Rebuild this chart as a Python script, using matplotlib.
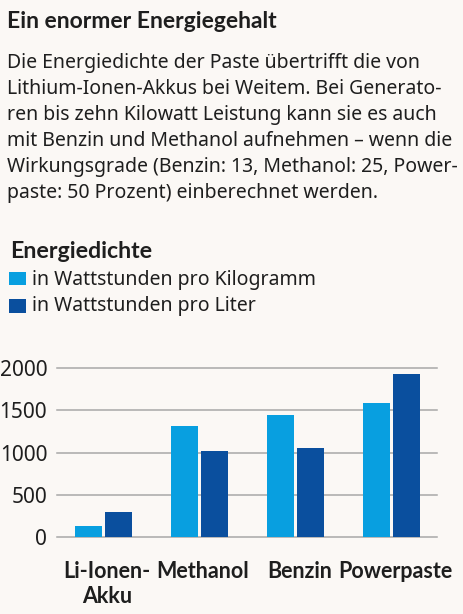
import matplotlib
matplotlib.use("Agg")
import matplotlib.pyplot as plt
from matplotlib.patches import Rectangle
import numpy as np

categories = ["Li-Ionen-\nAkku", "Methanol", "Benzin", "Powerpaste"]
wh_per_kg = [130, 1320, 1445, 1590]
wh_per_l = [295, 1025, 1060, 1930]
yticks = [0, 500, 1000, 1500, 2000]
series_labels = ["in Wattstunden pro Kilogramm", "in Wattstunden pro Liter"]

title = "Ein enormer Energiegehalt"
body_lines = ["Die Energiedichte der Paste übertrifft die von",
              "Lithium-Ionen-Akkus bei Weitem. Bei Generato-",
              "ren bis zehn Kilowatt Leistung kann sie es auch",
              "mit Benzin und Methanol aufnehmen – wenn die",
              "Wirkungsgrade (Benzin: 13, Methanol: 25, Power-",
              "paste: 50 Prozent) einberechnet werden."]
legend_title = "Energiedichte"

BG = "#FBF8F5"
C1 = "#089FE0"
C2 = "#0A4F9E"
TXT = "#1E1E1E"
FONT = ["Noto Sans", "DejaVu Sans"]
BOLD = ["Lato", "DejaVu Sans"]
plt.rcParams['font.family'] = FONT

W, H = 463, 614
fig = plt.figure(figsize=(W / 100, H / 100), dpi=100, facecolor=BG)

def fx(px):
    return px / W

def fy(py):
    return 1 - py / H

FS = 14
fig.text(fx(7), fy(28.3), title, fontsize=16.5, fontweight="bold", family=BOLD,
         color=TXT, va="baseline", ha="left")
for i, line in enumerate(body_lines):
    fig.text(fx(7), fy(68.3 + 26 * i), line, fontsize=FS, color=TXT, va="baseline", ha="left")
fig.text(fx(10), fy(257.7), legend_title, fontsize=16.7, fontweight="bold", family=BOLD,
         color=TXT, va="baseline", ha="left")
for i, (lab, c) in enumerate(zip(series_labels, [C1, C2])):
    top = 271.5 + i * 27.7
    fig.patches.append(Rectangle((fx(9), fy(top + 13.5)), fx(16.5), 13.5 / H,
                                 transform=fig.transFigure, facecolor=c, edgecolor="none"))
    fig.text(fx(32), fy(285 + i * 25.7), lab, fontsize=FS, color=TXT, va="baseline", ha="left")

ax_left, ax_right = 57, 437
ax_top, ax_bot = 368.3, 537
ax = fig.add_axes([fx(ax_left), fy(ax_bot), fx(ax_right - ax_left), (ax_bot - ax_top) / H])
ax.set_facecolor(BG)

spacing = 96.2
x = np.arange(len(categories))
ax.set_xlim(-(103 - ax_left) / spacing, (ax_right - 103) / spacing)
ax.set_ylim(0, 2000)
bw = 27 / spacing
off = 15 / spacing
ax.bar(x - off, wh_per_kg, width=bw, color=C1, zorder=3)
ax.bar(x + off, wh_per_l, width=bw, color=C2, zorder=3)

ax.set_yticks(yticks)
ax.set_yticklabels([str(v) for v in yticks], fontsize=15, color=TXT)
ax.yaxis.grid(True, color="#A8A8A8", linewidth=1.1, zorder=0)
ax.tick_params(axis="y", length=0, pad=7)
ax.set_xticks(x + 0.04)
ax.set_xticklabels(categories, fontsize=15.5, fontweight="bold", family=BOLD, color=TXT,
                   linespacing=1.25)
ax.tick_params(axis="x", length=0, pad=17)
for s in ax.spines.values():
    s.set_visible(False)
for line in ax.get_ygridlines():
    line.set_clip_on(False)

fig.savefig("out.png", dpi=100, facecolor=BG)
